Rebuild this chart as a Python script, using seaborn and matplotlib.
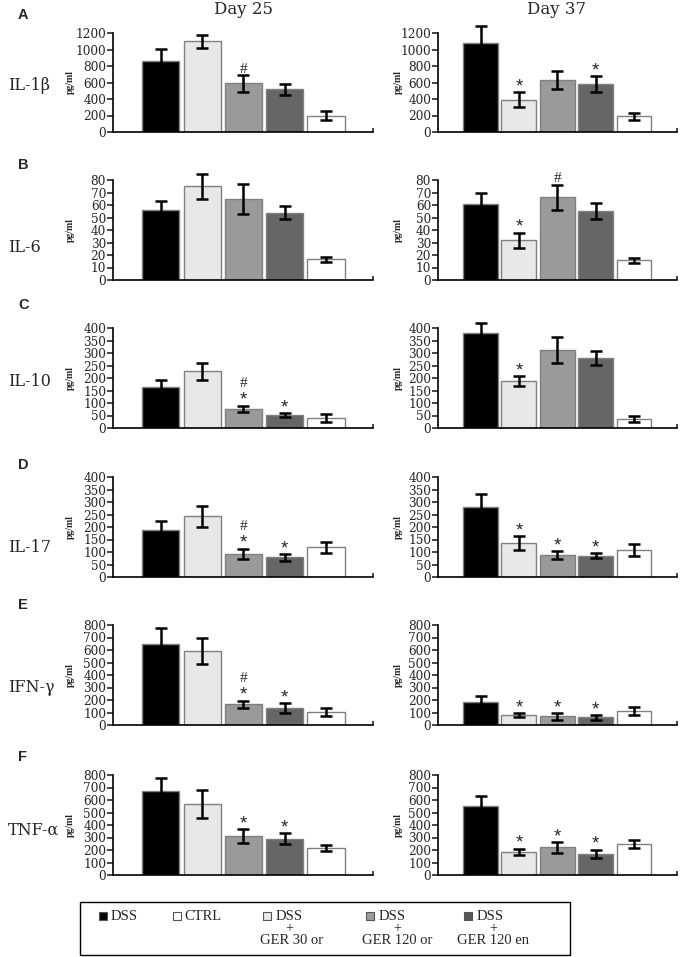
import numpy as np
import pandas as pd
import matplotlib
matplotlib.use("Agg")
import matplotlib.pyplot as plt
from matplotlib.patches import Rectangle
import seaborn as sns

# ---------------- data ----------------
groups = ["DSS", "DSS+GER 30 or", "DSS+GER 120 or", "DSS+GER 120 en", "CTRL"]
colors = ["#000000", "#e8e8e8", "#9a9a9a", "#666666", "#ffffff"]
cytokines = ["IL-1β", "IL-6", "IL-10", "IL-17", "IFN-γ", "TNF-α"]
panel_letters = ["A", "B", "C", "D", "E", "F"]
days = ["Day 25", "Day 37"]
y_max = [1200, 80, 400, 400, 800, 800]
y_step = [200, 10, 50, 50, 100, 100]

il1b_d25 = [865, 1100, 590, 517, 198]
il1b_d25_err = [140, 78, 100, 65, 55]
il1b_d37 = [1080, 392, 628, 580, 192]
il1b_d37_err = [208, 88, 108, 100, 44]

il6_d25 = [56, 75, 65, 54, 16.5]
il6_d25_err = [7.5, 10, 12, 5, 2]
il6_d37 = [61, 31.7, 66.4, 55.5, 16]
il6_d37_err = [8.5, 6.2, 10, 6.4, 2]

il10_d25 = [165, 227, 77, 53, 39]
il10_d25_err = [27, 35, 13, 8, 16]
il10_d37 = [379, 188, 311, 280, 37]
il10_d37_err = [41, 21, 52, 28, 12]

il17_d25 = [188, 243, 93, 79, 119]
il17_d25_err = [35, 43, 21, 13, 23]
il17_d37 = [280, 135, 89, 85, 108]
il17_d37_err = [53, 28, 15, 10, 24]

ifng_d25 = [651, 592, 165, 133, 104]
ifng_d25_err = [128, 101, 30, 40, 29]
ifng_d37 = [184, 80, 69, 61, 112]
ifng_d37_err = [45, 16, 27, 19, 35]

tnfa_d25 = [669, 568, 309, 291, 219]
tnfa_d25_err = [104, 112, 56, 42, 24]
tnfa_d37 = [555, 187, 221, 171, 248]
tnfa_d37_err = [74, 24, 43, 32, 35]

# significance marks ("*" vs DSS, "#" vs other)
il1b_d25_sig = ["", "", "#", "", ""]
il1b_d37_sig = ["", "*", "", "*", ""]
il6_d25_sig = ["", "", "", "", ""]
il6_d37_sig = ["", "*", "#", "", ""]
il10_d25_sig = ["", "", "*#", "*", ""]
il10_d37_sig = ["", "*", "", "", ""]
il17_d25_sig = ["", "", "*#", "*", ""]
il17_d37_sig = ["", "*", "*", "*", ""]
ifng_d25_sig = ["", "", "*#", "*", ""]
ifng_d37_sig = ["", "*", "*", "*", ""]
tnfa_d25_sig = ["", "", "*", "*", ""]
tnfa_d37_sig = ["", "*", "*", "*", ""]

panels = [
    [(il1b_d25, il1b_d25_err, il1b_d25_sig), (il1b_d37, il1b_d37_err, il1b_d37_sig)],
    [(il6_d25, il6_d25_err, il6_d25_sig), (il6_d37, il6_d37_err, il6_d37_sig)],
    [(il10_d25, il10_d25_err, il10_d25_sig), (il10_d37, il10_d37_err, il10_d37_sig)],
    [(il17_d25, il17_d25_err, il17_d25_sig), (il17_d37, il17_d37_err, il17_d37_sig)],
    [(ifng_d25, ifng_d25_err, ifng_d25_sig), (ifng_d37, ifng_d37_err, ifng_d37_sig)],
    [(tnfa_d25, tnfa_d25_err, tnfa_d25_sig), (tnfa_d37, tnfa_d37_err, tnfa_d37_sig)],
]

legend_labels = ["DSS", "CTRL", "DSS", "DSS", "DSS"]
legend_sub = ["", "", "GER 30 or", "GER 120 or", "GER 120 en"]
legend_colors = ["#000000", "#ffffff", "#e8e8e8", "#9a9a9a", "#555555"]

# ---------------- layout ----------------
W, H = 680, 957
sns.set_style("ticks")
plt.rcParams["font.family"] = ["DejaVu Serif", "DejaVu Sans"]

fig = plt.figure(figsize=(W / 100, H / 100), dpi=100)


def fx(x):
    return x / W


def fy(y):
    return 1 - y / H


row_pix = [(33, 132), (180, 280), (328, 428), (477, 577), (625, 725), (775, 875)]
col_pix = [(113, 260, (-1.16, 5.14), 0.9), (438, 239, (-1.11, 5.12), 0.91)]
label_y = [85, 248, 382, 547, 688, 830]
letter_y = [15, 165, 305, 465, 605, 757]

serif = ["Liberation Serif", "DejaVu Serif"]

for r in range(6):
    top, bot = row_pix[r]
    for c in range(2):
        left, width, xl, bw = col_pix[c]
        ax = fig.add_axes([fx(left), fy(bot), width / W, (bot - top) / H])
        vals, errs, sigs = panels[r][c]
        df = pd.DataFrame({"group": groups, "value": vals})
        sns.barplot(data=df, x="group", y="value", hue="group", order=groups,
                    hue_order=groups, palette=colors, width=bw, saturation=1,
                    edgecolor="#808080", linewidth=1.0, errorbar=None,
                    legend=False, ax=ax)
        for p in ax.patches:
            xc = p.get_x() + p.get_width() / 2
            i = int(round(xc))
            ax.errorbar(xc, vals[i], yerr=errs[i], fmt="none", ecolor="black",
                        elinewidth=1.8, capsize=4.3, capthick=1.8,
                        clip_on=False, zorder=5)
            top_v = vals[i] + errs[i]
            s = sigs[i]
            if "*" in s:
                ax.annotate("*", xy=(xc, top_v), xytext=(0, 0.5),
                            textcoords="offset points", ha="center",
                            va="baseline", fontsize=13.5,
                            family=["Liberation Sans", "DejaVu Sans"],
                            annotation_clip=False)
            if "#" in s:
                off = 13.5 if "*" in s else 1.5
                ax.annotate("#", xy=(xc, top_v), xytext=(0, off),
                            textcoords="offset points", ha="center",
                            va="baseline", fontsize=11, family=serif,
                            annotation_clip=False)
        ax.set_xlim(*xl)
        ax.set_ylim(0, y_max[r])
        ax.set_yticks(np.arange(0, y_max[r] + 1, y_step[r]))
        ax.set_yticklabels([str(int(v)) for v in np.arange(0, y_max[r] + 1, y_step[r])],
                           fontsize=8.7, family="DejaVu Serif")
        ax.set_xticks([xl[1]])
        ax.set_xticklabels([""])
        ax.tick_params(axis="x", direction="in", length=3, width=1.2)
        ax.tick_params(axis="y", direction="out", length=4, width=1.2, pad=1)
        ax.set_xlabel("")
        ax.set_ylabel("pg/ml", fontsize=7, family=serif, fontweight="bold")
        ax.yaxis.set_label_coords(-0.145, 0.5)
        sns.despine(ax=ax)
        for sp in ["left", "bottom"]:
            ax.spines[sp].set_linewidth(1.2)
            ax.spines[sp].set_color("black")
        ax.patch.set_alpha(0)

    fig.text(fx(8), fy(label_y[r]), cytokines[r], fontsize=11.5,
             family="DejaVu Serif", ha="left", va="center")
    fig.text(fx(18), fy(letter_y[r]), panel_letters[r], fontsize=10.5,
             family=["Liberation Sans", "DejaVu Sans"], fontweight="bold",
             ha="left", va="center")

fig.text(fx(243), fy(10), days[0], fontsize=12, family="DejaVu Serif",
         ha="center", va="center")
fig.text(fx(557), fy(10), days[1], fontsize=12, family="DejaVu Serif",
         ha="center", va="center")

# ---------------- legend box ----------------
fig.patches.append(Rectangle((fx(80), fy(955)), 490 / W, 53 / H,
                             transform=fig.transFigure, fill=False,
                             edgecolor="black", linewidth=1.0))
sq_x = [103, 177, 267, 370, 468]
txt_x = [111, 184, 276, 379, 477]
plus_x = [None, None, 289, 397, 493]
sub_x = [None, None, 292, 397, 493]
sq = 8
for k in range(5):
    fig.patches.append(Rectangle((fx(sq_x[k] - sq / 2), fy(916 + sq / 2)), sq / W, sq / H,
                                 transform=fig.transFigure,
                                 facecolor=legend_colors[k], edgecolor="#555555",
                                 linewidth=0.8))
    fig.text(fx(txt_x[k]), fy(916), legend_labels[k], fontsize=10.5, family=serif,
             ha="left", va="center")
    if legend_sub[k]:
        fig.text(fx(plus_x[k]), fy(929), "+", fontsize=10, family=serif,
                 ha="center", va="center")
        fig.text(fx(sub_x[k]), fy(941), legend_sub[k], fontsize=10.5, family=serif,
                 ha="center", va="center")

fig.savefig("out.png", dpi=100)
